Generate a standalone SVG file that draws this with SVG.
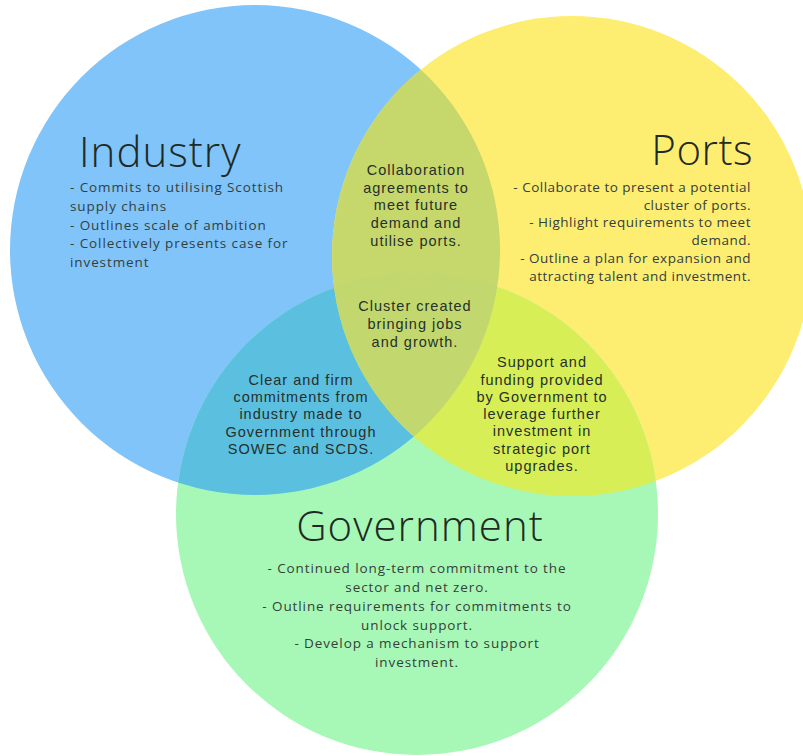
<svg xmlns="http://www.w3.org/2000/svg" width="803" height="756" viewBox="0 0 803 756">
  <style>
    .title { font-family: "Open Sans", "Liberation Sans", sans-serif; font-weight: 300; font-size: 42px; fill: #1f2a24; letter-spacing: 1px; }
    .body { font-family: "Open Sans", "Liberation Sans", sans-serif; font-weight: 400; font-size: 13.5px; fill: #34403a; letter-spacing: 0.9px; }
    .pbody { letter-spacing: 0.5px; }
    .mid { font-family: "Liberation Sans", Arial, sans-serif; font-weight: 400; font-size: 14.5px; fill: #26302a; text-anchor: middle; letter-spacing: 1px; }
  </style>
  <defs>
    <clipPath id="clipBlue"><circle cx="255" cy="250" r="245"/></clipPath>
    <clipPath id="clipYellow"><circle cx="572" cy="256" r="240"/></clipPath>
    <clipPath id="clipGreen"><circle cx="418" cy="514" r="240"/></clipPath>
  </defs>
  <rect width="803" height="756" fill="#ffffff"/>

  <g id="circles">
    <circle cx="255" cy="250" r="245" fill="#80c4fa"/>
    <circle cx="572" cy="256" r="240" fill="#fdee72"/>
    <circle cx="417" cy="514" r="241" fill="#a7f8b6"/>
    <g clip-path="url(#clipBlue)">
      <circle cx="572" cy="256" r="240" fill="#c6d76b"/>
      <circle cx="417" cy="514" r="241" fill="#5bbfe0"/>
    </g>
    <g clip-path="url(#clipYellow)">
      <circle cx="417" cy="514" r="241" fill="#d7ee56"/>
    </g>
    <g clip-path="url(#clipBlue)">
      <g clip-path="url(#clipYellow)">
        <circle cx="417" cy="514" r="241" fill="#c2d86e"/>
      </g>
    </g>
  </g>

  <g id="connectors"></g>

  <g id="industry">
    <text class="title" x="79" y="167">Industry</text>
    <text class="body" x="70" y="192">- Commits to utilising Scottish</text>
    <text class="body" x="70" y="211">supply chains</text>
    <text class="body" x="70" y="230">- Outlines scale of ambition</text>
    <text class="body" x="70" y="248">- Collectively presents case for</text>
    <text class="body" x="70" y="267">investment</text>
  </g>

  <g id="ports">
    <text class="title" x="753" y="165" text-anchor="end" style="letter-spacing:0.5px">Ports</text>
    <g text-anchor="end">
      <text class="body pbody" x="751" y="192">- Collaborate to present a potential</text>
      <text class="body pbody" x="751" y="210">cluster of ports.</text>
      <text class="body pbody" x="751" y="227">- Highlight requirements to meet</text>
      <text class="body pbody" x="751" y="245">demand.</text>
      <text class="body pbody" x="751" y="263">- Outline a plan for expansion and</text>
      <text class="body pbody" x="751" y="281">attracting talent and investment.</text>
    </g>
  </g>

  <g id="government">
    <text class="title" x="420" y="541" text-anchor="middle">Government</text>
    <g text-anchor="middle">
      <text class="body" x="417" y="573">- Continued long-term commitment to the</text>
      <text class="body" x="417" y="592">sector and net zero.</text>
      <text class="body" x="417" y="611">- Outline requirements for commitments to</text>
      <text class="body" x="417" y="630">unlock support.</text>
      <text class="body" x="417" y="648">- Develop a mechanism to support</text>
      <text class="body" x="417" y="667">investment.</text>
    </g>
  </g>

  <g id="industry-ports">
    <text class="mid" x="416" y="175">Collaboration</text>
    <text class="mid" x="416" y="193">agreements to</text>
    <text class="mid" x="416" y="210">meet future</text>
    <text class="mid" x="416" y="228">demand and</text>
    <text class="mid" x="416" y="246">utilise ports.</text>
  </g>

  <g id="all-three">
    <text class="mid" x="415" y="311">Cluster created</text>
    <text class="mid" x="415" y="329">bringing jobs</text>
    <text class="mid" x="415" y="347">and growth.</text>
  </g>

  <g id="industry-government">
    <text class="mid" x="301" y="385">Clear and firm</text>
    <text class="mid" x="301" y="402">commitments from</text>
    <text class="mid" x="301" y="419">industry made to</text>
    <text class="mid" x="301" y="437">Government through</text>
    <text class="mid" x="301" y="454">SOWEC and SCDS.</text>
  </g>

  <g id="ports-government">
    <text class="mid" x="542" y="367">Support and</text>
    <text class="mid" x="542" y="385">funding provided</text>
    <text class="mid" x="542" y="402">by Government to</text>
    <text class="mid" x="542" y="419">leverage further</text>
    <text class="mid" x="542" y="436">investment in</text>
    <text class="mid" x="542" y="454">strategic port</text>
    <text class="mid" x="542" y="471">upgrades.</text>
  </g>
</svg>
